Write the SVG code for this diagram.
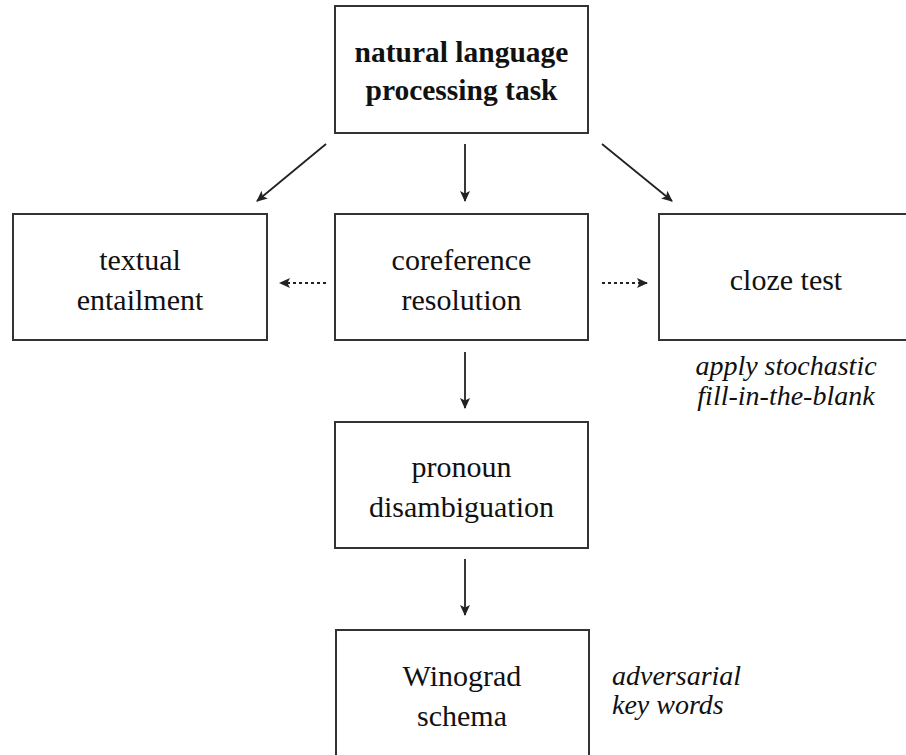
<svg xmlns="http://www.w3.org/2000/svg" width="906" height="755" viewBox="0 0 906 755">
  <style>
    .box { fill: #ffffff; stroke: #333333; stroke-width: 2; }
    text { font-family: 'Liberation Serif', 'Noto Serif', 'DejaVu Serif', serif; fill: #111111; }
    .label { font-size: 30px; text-anchor: middle; }
    .bold { font-weight: bold; font-size: 29.5px; }
    .note { font-size: 28px; font-style: italic; }
    .edge { fill: none; stroke: #222222; stroke-width: 1.8; marker-end: url(#head); }
    .dotted { stroke-dasharray: 3 3; }
  </style>
  <defs>
    <marker id="head" viewBox="-1 -6 13 12" markerWidth="13" markerHeight="12" refX="10" refY="0" orient="auto" markerUnits="userSpaceOnUse">
      <path d="M0,-5 L11,0 L0,5 L2.5,0 z" fill="#222222"/>
    </marker>
  </defs>

  <rect width="906" height="755" fill="#ffffff"/>

  <!-- connectors -->
  <g id="connectors">
    <line class="edge" x1="326" y1="144" x2="257" y2="201"/>
    <line class="edge" x1="465" y1="144" x2="465" y2="201"/>
    <line class="edge" x1="602" y1="144" x2="672" y2="201"/>
    <line class="edge dotted" x1="326" y1="283" x2="280" y2="283"/>
    <line class="edge dotted" x1="602" y1="283" x2="647" y2="283"/>
    <line class="edge" x1="465" y1="352" x2="465" y2="408"/>
    <line class="edge" x1="465" y1="559" x2="465" y2="615"/>
  </g>

  <!-- nodes -->
  <g id="nlp-task">
    <rect class="box" x="335" y="6" width="253" height="127"/>
    <text class="label bold" x="461.5" y="62">natural language</text>
    <text class="label bold" x="461.5" y="100">processing task</text>
  </g>

  <g id="textual-entailment">
    <rect class="box" x="13" y="214" width="254" height="126"/>
    <text class="label" x="140" y="270">textual</text>
    <text class="label" x="140" y="310">entailment</text>
  </g>

  <g id="coreference-resolution">
    <rect class="box" x="335" y="214" width="253" height="126"/>
    <text class="label" x="461.5" y="270">coreference</text>
    <text class="label" x="461.5" y="310">resolution</text>
  </g>

  <g id="cloze-test">
    <rect class="box" x="659" y="214" width="254" height="126"/>
    <text class="label" x="786" y="290">cloze test</text>
    <text class="note" x="786" y="375" text-anchor="middle">apply stochastic</text>
    <text class="note" x="786" y="405" text-anchor="middle">fill-in-the-blank</text>
  </g>

  <g id="pronoun-disambiguation">
    <rect class="box" x="335" y="422" width="253" height="126"/>
    <text class="label" x="461.5" y="477">pronoun</text>
    <text class="label" x="461.5" y="517">disambiguation</text>
  </g>

  <g id="winograd-schema">
    <rect class="box" x="336" y="630" width="253" height="127"/>
    <text class="label" x="462" y="686">Winograd</text>
    <text class="label" x="462" y="726">schema</text>
    <text class="note" x="612" y="685">adversarial</text>
    <text class="note" x="612" y="714">key words</text>
  </g>
</svg>
